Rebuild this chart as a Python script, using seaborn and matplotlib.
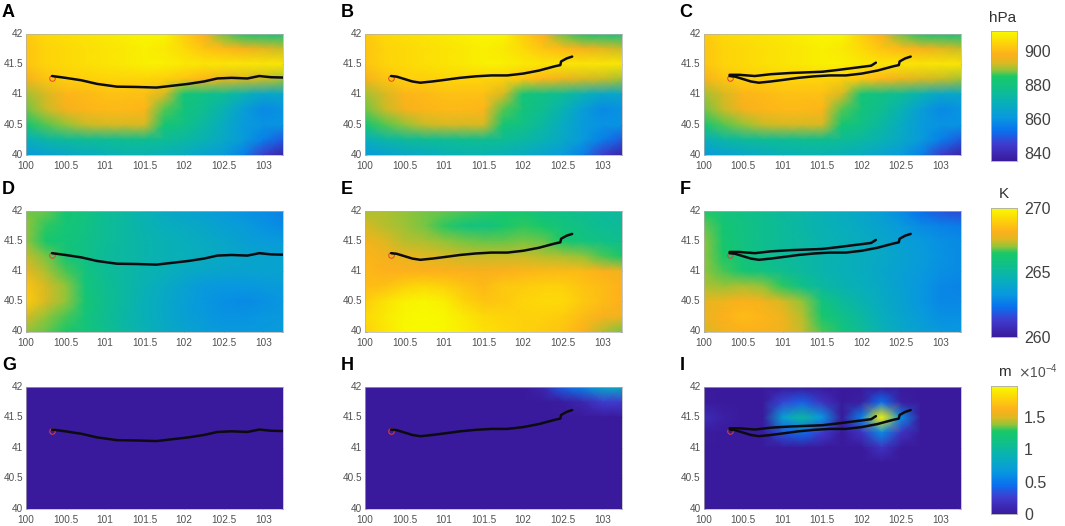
import numpy as np
import pandas as pd
import matplotlib
matplotlib.use("Agg")
import matplotlib.pyplot as plt
from matplotlib.colors import LinearSegmentedColormap
import seaborn as sns

sns.set_style("white")
plt.rcParams['font.family'] = ['Liberation Sans', 'DejaVu Sans']

lons = [100, 100.25, 100.5, 100.75, 101, 101.25, 101.5, 101.75, 102, 102.25, 102.5, 102.75, 103, 103.25]
lats = [42, 41.75, 41.5, 41.25, 41, 40.75, 40.5, 40.25, 40]
lon_ticks = [100, 100.5, 101, 101.5, 102, 102.5, 103]
lat_ticks = [40, 40.5, 41, 41.5, 42]

# surface pressure, hPa (same field in A, B, C)
pressure = [
    [903, 906, 907, 908, 909, 910, 911, 911, 904, 898, 888, 884, 881, 880],
    [902, 905, 906, 907, 908, 909, 910, 909, 906, 902, 900, 897, 894, 892],
    [902, 905, 906, 907, 908, 909, 910, 910, 909, 908, 908, 908, 908, 908],
    [897, 902, 904, 904, 905, 905, 905, 904, 902, 899, 895, 893, 892, 890],
    [890, 893, 899, 900, 901, 901, 901, 893, 882, 879, 876, 871, 866, 866],
    [888, 892, 897, 899, 900, 900, 899, 887, 881, 877, 871, 863, 858, 860],
    [883, 887, 889, 892, 893, 893, 893, 883, 879, 874, 868, 862, 860, 860],
    [869, 873, 875, 876, 876, 877, 877, 876, 874, 871, 867, 862, 856, 850],
    [862, 864, 866, 868, 870, 871, 871, 870, 868, 865, 862, 856, 845, 838],
]

# air temperature, K
temp_d = [
    [266.9, 266.8, 266.2, 265.9, 265.3, 265.0, 264.6, 264.2, 263.9, 263.7, 263.4, 263.2, 263.0, 262.8],
    [267.0, 266.6, 266.1, 265.8, 265.3, 265.0, 264.7, 264.4, 264.2, 264.0, 263.7, 263.5, 263.2, 263.0],
    [267.0, 266.4, 266.0, 265.7, 265.3, 265.0, 264.8, 264.6, 264.4, 264.2, 264.0, 263.7, 263.5, 263.4],
    [267.4, 266.9, 266.1, 265.7, 265.2, 265.0, 264.8, 264.6, 264.5, 264.3, 264.1, 264.0, 263.9, 263.8],
    [267.8, 267.2, 266.7, 265.9, 265.3, 265.0, 264.7, 264.5, 264.2, 264.0, 263.9, 263.8, 263.8, 263.8],
    [268.7, 267.5, 267.0, 266.0, 265.4, 265.0, 264.6, 264.2, 263.8, 263.4, 263.3, 263.3, 263.4, 263.5],
    [268.9, 267.5, 267.0, 266.2, 265.5, 265.0, 264.5, 264.1, 263.7, 263.3, 263.1, 263.0, 263.1, 263.3],
    [267.5, 267.0, 266.7, 266.0, 265.4, 264.9, 264.5, 264.1, 263.7, 263.4, 263.2, 263.2, 263.3, 263.4],
    [267.0, 266.8, 266.5, 266.0, 265.5, 265.0, 264.6, 264.2, 263.9, 263.6, 263.4, 263.4, 263.4, 263.5],
]
temp_e = [
    [267.2, 267.2, 267.0, 266.9, 266.8, 266.7, 266.6, 266.5, 266.3, 265.8, 265.6, 265.4, 265.2, 265.0],
    [267.5, 267.3, 267.1, 266.9, 266.6, 266.0, 265.8, 266.3, 266.6, 266.4, 265.9, 265.6, 265.3, 265.2],
    [268.0, 267.6, 267.3, 267.2, 267.0, 266.9, 266.8, 266.8, 266.9, 266.8, 266.4, 265.9, 265.6, 265.5],
    [268.3, 268.0, 267.8, 267.6, 267.5, 267.4, 267.4, 267.4, 267.4, 267.3, 267.2, 267.0, 266.7, 266.4],
    [268.4, 268.2, 268.2, 268.2, 268.2, 268.2, 268.1, 268.2, 268.3, 268.4, 268.4, 268.4, 268.2, 267.9],
    [268.5, 268.6, 269.0, 269.2, 269.0, 268.7, 268.4, 268.8, 268.9, 269.0, 269.0, 268.7, 268.5, 268.2],
    [268.9, 269.4, 269.8, 269.9, 269.7, 269.1, 268.7, 268.8, 269.1, 269.2, 269.2, 268.8, 268.5, 268.2],
    [269.2, 269.6, 269.9, 270.0, 269.9, 269.6, 269.2, 269.1, 269.0, 269.0, 268.9, 268.5, 268.1, 267.9],
    [269.0, 269.5, 269.9, 270.0, 269.9, 269.7, 269.4, 269.2, 269.0, 268.9, 268.7, 268.2, 267.3, 266.9],
]
temp_f = [
    [266.5, 266.0, 265.7, 265.4, 265.1, 264.9, 264.6, 264.3, 264.0, 263.6, 263.0, 262.3, 261.8, 261.5],
    [266.8, 266.2, 265.8, 265.5, 265.2, 264.9, 264.6, 264.4, 264.1, 263.8, 263.4, 263.0, 262.8, 262.6],
    [267.0, 266.3, 265.8, 265.5, 265.2, 265.0, 264.7, 264.5, 264.3, 264.0, 263.7, 263.4, 263.1, 263.0],
    [267.0, 266.5, 265.9, 265.5, 265.2, 265.0, 264.8, 264.6, 264.3, 264.1, 263.8, 263.5, 263.2, 263.0],
    [267.0, 266.7, 266.2, 265.8, 265.4, 265.1, 264.8, 264.5, 264.3, 264.0, 263.7, 263.4, 263.1, 263.0],
    [267.2, 267.1, 267.2, 267.0, 266.6, 265.6, 265.0, 264.7, 264.4, 264.1, 263.7, 263.3, 262.9, 262.8],
    [267.7, 267.9, 268.2, 268.0, 267.5, 267.0, 265.9, 265.2, 264.7, 264.2, 263.8, 263.3, 262.9, 262.9],
    [267.8, 268.2, 268.5, 268.3, 267.9, 267.3, 266.4, 265.6, 265.0, 264.4, 263.9, 263.5, 263.1, 263.1],
    [267.5, 268.0, 268.2, 268.1, 267.9, 267.4, 266.7, 266.0, 265.3, 264.6, 264.1, 263.7, 263.4, 263.3],
]

# third row, in units of 1e-4 m
snow_g = [[0] * 14 for _ in lats]
snow_h = [
    [0, 0, 0, 0, 0, 0, 0, 0, 0, 0.1, 0.4, 0.55, 0.8, 0.85],
    [0, 0, 0, 0, 0, 0, 0, 0, 0, 0, 0.02, 0.1, 0.25, 0.25],
    [0] * 14, [0] * 14, [0] * 14, [0] * 14, [0] * 14, [0] * 14, [0] * 14,
]
snow_i = [
    [0] * 14,
    [0.02, 0, 0, 0, 0.3, 0.4, 0.2, 0, 0.05, 0.45, 0.05, 0, 0, 0],
    [0.15, 0.05, 0, 0, 0.75, 1.0, 0.65, 0, 0.55, 1.95, 0.6, 0, 0, 0],
    [0.02, 0, 0, 0, 0.35, 0.45, 0.25, 0, 0.2, 0.6, 0.2, 0, 0, 0],
    [0, 0, 0, 0, 0, 0, 0, 0, 0, 0.2, 0, 0, 0, 0],
    [0] * 14, [0] * 14, [0] * 14, [0] * 14,
]

# flight tracks
track1_lon = [100.33, 100.5, 100.7, 100.9, 101.15, 101.4, 101.65, 101.85, 102.05, 102.25, 102.42, 102.6, 102.8, 102.95, 103.1, 103.25]
track1_lat = [41.30, 41.27, 41.23, 41.17, 41.125, 41.12, 41.11, 41.14, 41.17, 41.21, 41.26, 41.27, 41.26, 41.30, 41.28, 41.275]
track2_lon = [100.33, 100.4, 100.5, 100.6, 100.7, 100.85, 101, 101.2, 101.4, 101.6, 101.8, 102, 102.2, 102.4, 102.47, 102.48, 102.55, 102.62]
track2_lat = [41.30, 41.29, 41.25, 41.21, 41.19, 41.21, 41.235, 41.27, 41.295, 41.31, 41.31, 41.34, 41.39, 41.46, 41.48, 41.54, 41.59, 41.62]
track3_lon = [100.33, 100.45, 100.65, 100.85, 101.1, 101.5, 101.7, 102.0, 102.12, 102.18]
track3_lat = [41.32, 41.32, 41.30, 41.33, 41.35, 41.37, 41.40, 41.45, 41.47, 41.52]
site_lon = 100.33
site_lat = 41.27

cmap = LinearSegmentedColormap.from_list("parula_like", [
    (0.00, "#3a1a9c"), (0.13, "#3f3ccf"), (0.23, "#0a70ee"), (0.33, "#0898e0"),
    (0.45, "#08b0b8"), (0.56, "#10c088"), (0.65, "#18c868"), (0.70, "#90c43a"),
    (0.76, "#e0b820"), (0.82, "#fdb01c"), (0.92, "#fdd808"), (1.00, "#f8fa00"),
])


def to_x(lon):
    return (np.asarray(lon) - lons[0]) / (lons[1] - lons[0])


def to_y(lat):
    return (lats[0] - np.asarray(lat)) / (lats[0] - lats[1])


rows = {
    "top": (33.5, 155),
    "mid": (211, 331.5),
    "low": (387, 508.5),
}
cols = [26, 365, 703.5]
W, H = 1065, 526
ax_w = 257


def panel(letter, field, col, row, vmin, vmax, tracks, cbar_ax=None):
    top, bottom = rows[row]
    ax = fig.add_axes([cols[col] / W, 1 - bottom / H, ax_w / W, (bottom - top) / H])
    df = pd.DataFrame(field, index=lats, columns=lons)
    sns.heatmap(df, ax=ax, cmap=cmap, vmin=vmin, vmax=vmax, shading='gouraud',
                cbar=cbar_ax is not None, cbar_ax=cbar_ax)
    ax.set_xlim(to_x(100), to_x(103.25))
    ax.set_ylim(to_y(40), to_y(42))
    ax.set_xticks(to_x(lon_ticks), [f"{v:g}" for v in lon_ticks], rotation=0)
    ax.set_yticks(to_y(lat_ticks), [f"{v:g}" for v in lat_ticks], rotation=0)
    ax.tick_params(axis='both', labelsize=7.2, labelcolor="#505050", length=1.5, width=0.4,
                   color="#505050", pad=2, direction='in', top=True, right=True, bottom=True, left=True)
    ax.tick_params(axis='x', pad=4.5)
    for s in ax.spines.values():
        s.set_visible(True)
        s.set_color("#b0b0b0")
        s.set_linewidth(0.5)
    ax.plot(to_x(site_lon), to_y(site_lat), 'o', mfc='none', mec="#e8402a", ms=4, mew=0.7)
    for lon, lat in tracks:
        ax.plot(to_x(lon), to_y(lat), color="#0c0c10", lw=1.8, solid_capstyle='round')
    fig.text((cols[col] - 24) / W, 1 - (top - 21) / H, letter, fontsize=13, fontweight='bold',
             color="black", va='center', ha='left')
    return ax


def colorbar_axes(top, bottom):
    return fig.add_axes([991 / W, 1 - bottom / H, 26 / W, (bottom - top) / H])


def style_cbar(cax, ticks, labels):
    cax.set_yticks(ticks, labels)
    cax.tick_params(axis='y', labelsize=11.5, labelcolor="#404040", length=0, pad=5)
    for s in cax.spines.values():
        s.set_visible(True)
        s.set_color("#b0b0b0")
        s.set_linewidth(0.5)


fig = plt.figure(figsize=(W / 100, H / 100), dpi=100)

t1 = (track1_lon, track1_lat)
t2 = (track2_lon, track2_lat)
t3 = (track3_lon, track3_lat)

cax1 = colorbar_axes(31, 161)
cax2 = colorbar_axes(208, 337)
cax3 = colorbar_axes(386, 514)

panel("A", pressure, 0, "top", 835.5, 912, [t1])
panel("B", pressure, 1, "top", 835.5, 912, [t2])
panel("C", pressure, 2, "top", 835.5, 912, [t2, t3], cax1)
panel("D", temp_d, 0, "mid", 260, 270, [t1])
panel("E", temp_e, 1, "mid", 260, 270, [t2])
panel("F", temp_f, 2, "mid", 260, 270, [t2, t3], cax2)
panel("G", snow_g, 0, "low", 0, 1.98, [t1])
panel("H", snow_h, 1, "low", 0, 1.98, [t2])
panel("I", snow_i, 2, "low", 0, 1.98, [t2, t3], cax3)

style_cbar(cax1, [840, 860, 880, 900], ["840", "860", "880", "900"])
style_cbar(cax2, [260, 265, 270], ["260", "265", "270"])
style_cbar(cax3, [0, 0.5, 1, 1.5], ["0", "0.5", "1", "1.5"])

fig.text(1003 / W, 1 - 18 / H, "hPa", fontsize=11, color="#303030", ha='center', va='center')
fig.text(1004 / W, 1 - 194 / H, "K", fontsize=11, color="#303030", ha='center', va='center')
fig.text(1004 / W, 1 - 372 / H, "m", fontsize=11, color="#303030", ha='center', va='center')
fig.text(1038 / W, 1 - 372 / H, r"$\times\mathregular{10^{-4}}$", fontsize=10, color="#505050", ha='center', va='center')

fig.savefig("out.png", dpi=100)
